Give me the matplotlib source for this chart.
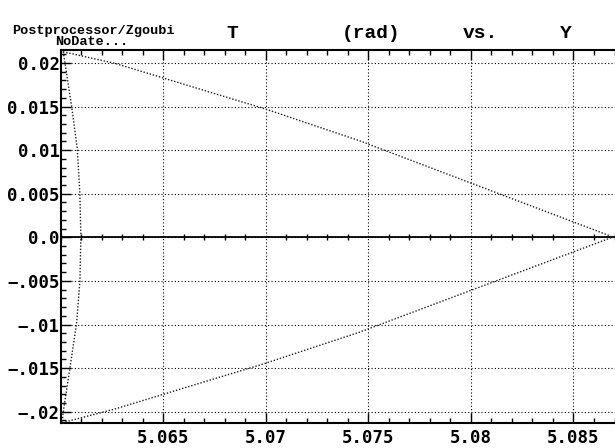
import numpy as np
import matplotlib
matplotlib.use('Agg')
import matplotlib.pyplot as plt
from matplotlib.ticker import MultipleLocator, FixedLocator, FixedFormatter

# points (Y, T)
upper_y = [5.06012, 5.06265, 5.06999, 5.07456, 5.0868, 5.0869]
upper_t = [0.02128, 0.01995, 0.01471, 0.01108, 0.00015, 0.0]
lower_y = [5.06008, 5.06265, 5.06998, 5.07456, 5.0868, 5.0869]
lower_t = [-0.02126, -0.01969, -0.01445, -0.01089, -0.00008, 0.0]
left_y = [5.06013, 5.06054, 5.06081, 5.06094, 5.06099, 5.06094, 5.06078, 5.06046, 5.06013, 5.06008]
left_t = [0.02128, 0.01498, 0.01021, 0.00505, 0.0, -0.00509, -0.00986, -0.01491, -0.02, -0.02126]

x_ticks = [5.065, 5.07, 5.075, 5.08, 5.085]
x_labels = ['5.065', '5.07', '5.075', '5.08', '5.085']
y_ticks = [0.02, 0.015, 0.01, 0.005, 0.0, -0.005, -0.01, -0.015, -0.02]
y_labels = ['0.02', '0.015', '0.01', '0.005', '0.0', '\u2212.005', '\u2212.01', '\u2212.015', '\u2212.02']

mono = 'Liberation Mono'
tickfont = 'DejaVu Sans Mono'

fig = plt.figure(figsize=(6.15, 4.48), dpi=100)
ax = fig.add_axes([61 / 615, 24.7 / 448, 553.5 / 615, 373.3 / 448])

ax.set_xlim(5.06002, 5.0870)
ax.set_ylim(-0.02133, 0.02148)

# grid + zero line
ax.grid(True, which='major', color='black', linestyle=(0, (1, 2)), linewidth=0.8)
ax.axhline(0.0, color='black', linewidth=1.3, zorder=2)

dots = dict(color='#1e1e1e', linestyle=(0, (1, 1.3)), linewidth=1.0, zorder=3)
ax.plot(upper_y, upper_t, **dots)
ax.plot(lower_y, lower_t, **dots)
ax.plot(left_y, left_t, **dots)

ax.xaxis.set_major_locator(FixedLocator(x_ticks))
ax.xaxis.set_major_formatter(FixedFormatter(x_labels))
ax.xaxis.set_minor_locator(MultipleLocator(0.001))
ax.yaxis.set_major_locator(FixedLocator(y_ticks))
ax.yaxis.set_major_formatter(FixedFormatter(y_labels))
ax.yaxis.set_minor_locator(MultipleLocator(0.001))

# tick marks across the zero line
minor_x = ax.get_xticks(minor=True)
ax.plot(minor_x, np.zeros(len(minor_x)), '|', color='black', markersize=5, markeredgewidth=1.0, zorder=4)

ax.tick_params(which='both', direction='in', top=True, right=False, width=1.0)
ax.tick_params(which='major', length=7, pad=4)
ax.tick_params(which='minor', length=3.5)
ax.tick_params(axis='y', pad=1)
for lbl in ax.get_xticklabels() + ax.get_yticklabels():
    lbl.set_family(tickfont)
    lbl.set_fontweight('bold')
    lbl.set_fontsize(12.5)

for side in ['left', 'bottom', 'top']:
    ax.spines[side].set_linewidth(1.5)
ax.spines['right'].set_visible(False)

# header texts
tfont = dict(family=mono, fontweight='bold', fontsize=14, ha='center', va='center')
fig.text(232 / 615, 1 - 33 / 448, 'T', **tfont)
fig.text(371 / 615, 1 - 33 / 448, '(rad)', **tfont)
fig.text(480 / 615, 1 - 33 / 448, 'vs.', **tfont)
fig.text(566 / 615, 1 - 33 / 448, 'Y', **tfont)
fig.text(12 / 615, 1 - 31 / 448, 'Postprocessor/Zgoubi', family=mono, fontweight='bold',
         fontsize=9.7, ha='left', va='center')
fig.text(55 / 615, 1 - 42 / 448, 'NoDate...', family=mono, fontweight='bold',
         fontsize=9.7, ha='left', va='center')

fig.savefig('out.png', dpi=100)
